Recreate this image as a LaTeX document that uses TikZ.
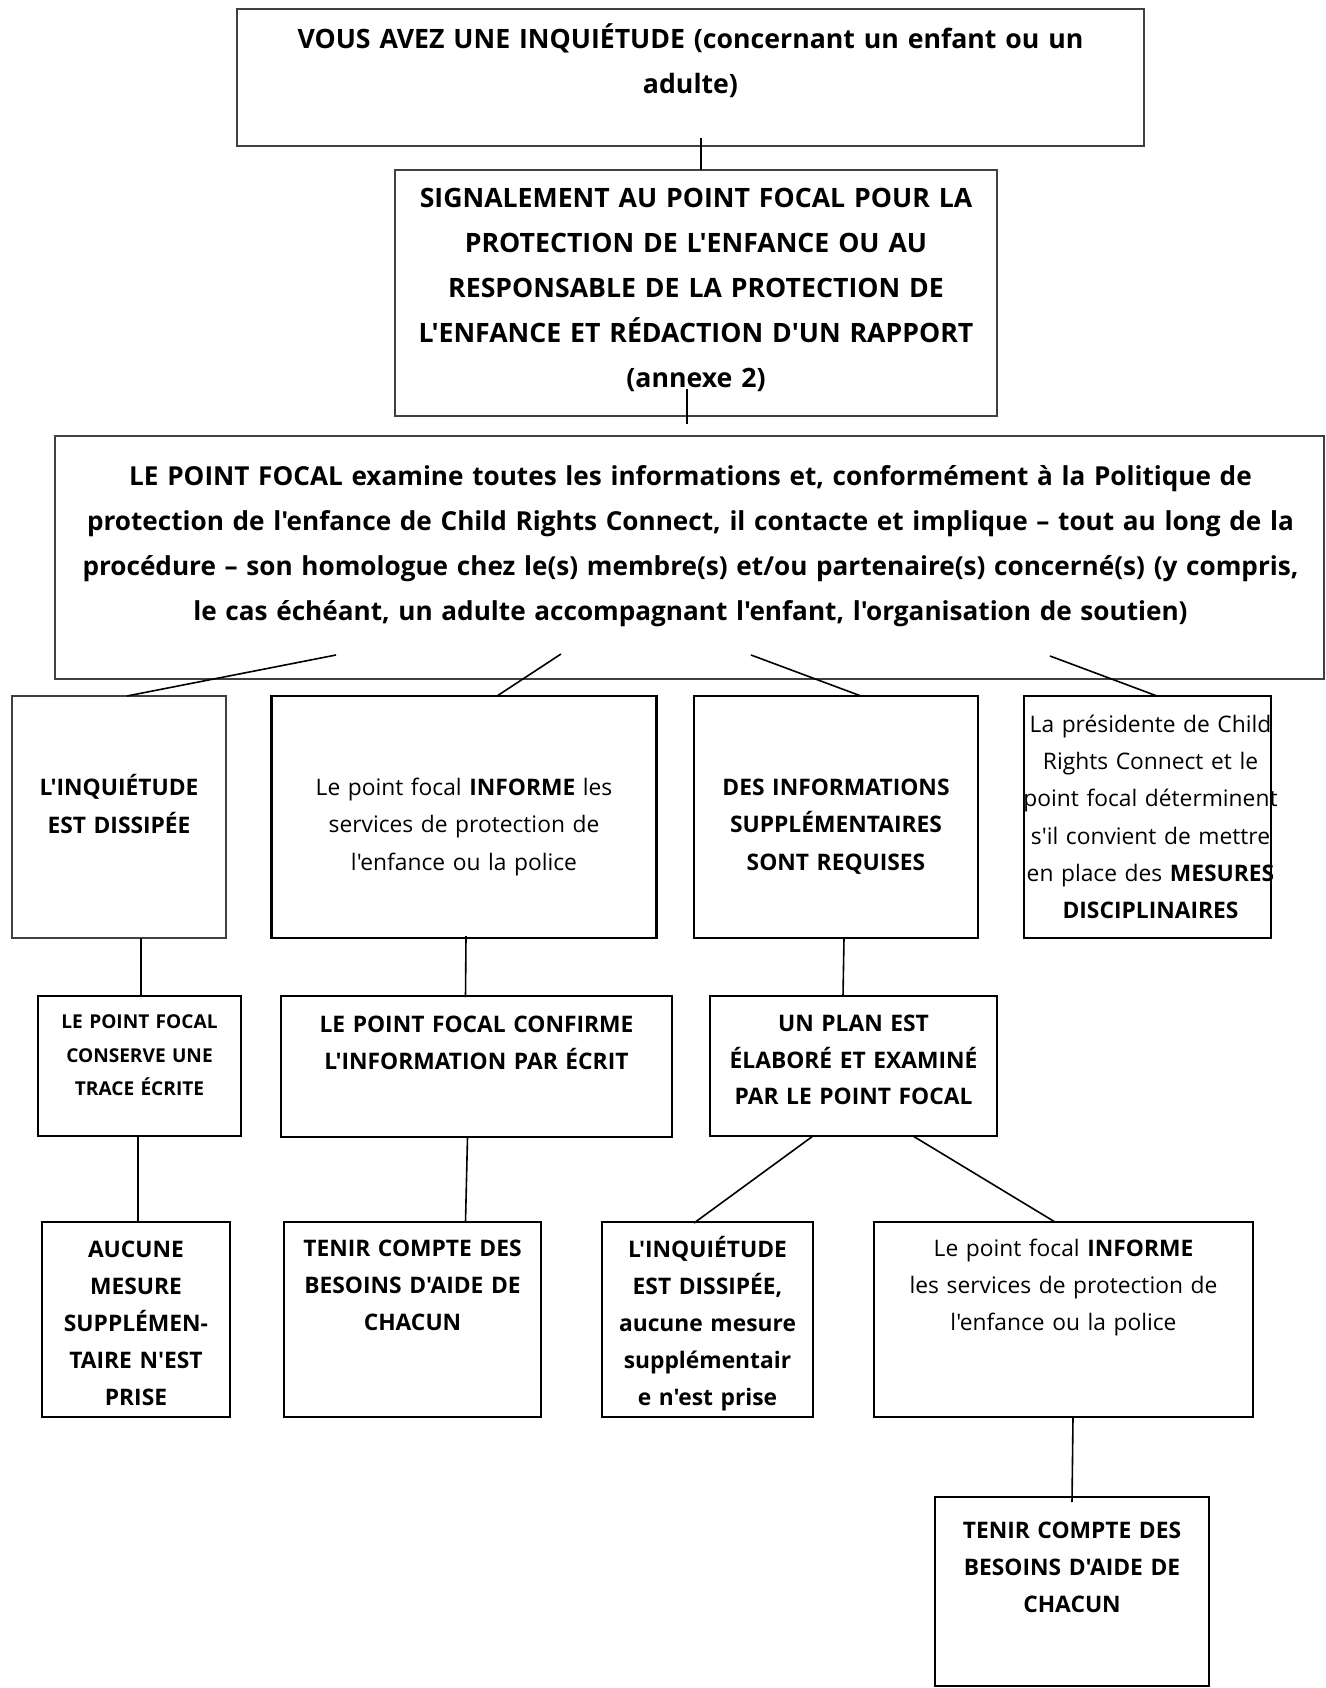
\documentclass[tikz,border=0pt]{standalone}
\usepackage{fontspec}
\setmainfont{Open Sans}[Ligatures=TeXOff]
\usetikzlibrary{calc}
\newlength\calw
\begin{document}
% font size calibration against measured text widths
\settowidth\calw{\fontsize{10}{12}\selectfont\bfseries LE POINT FOCAL examine toutes les informations et, conformément à la Politique de}%
\pgfmathsetmacro\fbig{1122/\calw*10}%
\global\let\fbig\fbig
\pgfmathsetmacro\fbigc{\fbig*0.98}%
\global\let\fbigc\fbigc
\settowidth\calw{\fontsize{10}{12}\selectfont\bfseries TENIR COMPTE DES}%
\pgfmathsetmacro\fsmall{215/\calw*10}%
\global\let\fsmall\fsmall
\settowidth\calw{\fontsize{10}{12}\selectfont\bfseries LE POINT FOCAL}%
\pgfmathsetmacro\ftiny{153.3/\calw*10}%
\global\let\ftiny\ftiny
\begin{tikzpicture}[x=1pt,y=-1pt,
  thinbox/.style={draw=black!75, line width=1.3pt, inner sep=0pt, outer sep=0pt},
  thickbox/.style={draw=black, line width=2.7pt, inner sep=0pt, outer sep=0pt},
  conn/.style={draw=black, line width=1.6pt},
  txtbase/.style={align=center, inner sep=0pt, execute at begin node=\strut, execute at end node=\strut},
  bigtxt/.style={txtbase, text width=1300pt, font=\fontsize{\fbig}{45}\selectfont\bfseries},
  bigtxtc/.style={txtbase, text width=1300pt, font=\fontsize{\fbigc}{45}\selectfont\bfseries},
  smalltxt/.style={txtbase, text width=500pt, font=\fontsize{\fsmall}{37.3}\selectfont},
  smallbold/.style={txtbase, text width=500pt, font=\fontsize{\fsmall}{#1}\selectfont\bfseries},
  tinytxt/.style={txtbase, text width=400pt, font=\fontsize{\ftiny}{33.5}\selectfont\bfseries}
]
\useasboundingbox (0,0) rectangle (1325,1688);
% boxes
\node[thinbox, minimum width=907pt, minimum height=137pt] (b1) at (690.5,77.5) {};
\node[thinbox, minimum width=602pt, minimum height=246pt] (b2) at (696,293) {};
\node[thinbox, minimum width=1269pt, minimum height=243pt] (b3) at (689.5,557.5) {};
\node[thinbox, minimum width=214pt, minimum height=242pt] (bA) at (119,817) {};
\node[thickbox, minimum width=385pt, minimum height=242pt] (bB) at (464,817) {};
\node[thickbox, minimum width=284pt, minimum height=242pt] (bC) at (836,817) {};
\node[thickbox, minimum width=247pt, minimum height=242pt] (bD) at (1147.5,817) {};
\node[thickbox, minimum width=203pt, minimum height=140pt] (bE) at (139.5,1066) {};
\node[thickbox, minimum width=391pt, minimum height=141pt] (bF) at (476.5,1066.5) {};
\node[thickbox, minimum width=287pt, minimum height=140pt] (bG) at (853.5,1066) {};
\node[thickbox, minimum width=188pt, minimum height=195pt] (bH) at (136,1319.5) {};
\node[thickbox, minimum width=257pt, minimum height=195pt] (bI) at (412.5,1319.5) {};
\node[thickbox, minimum width=211pt, minimum height=195pt] (bJ) at (707.5,1319.5) {};
\node[thickbox, minimum width=379pt, minimum height=195pt] (bK) at (1063.5,1319.5) {};
\node[thickbox, minimum width=274pt, minimum height=189pt] (bL) at (1072,1591.5) {};
% texts
\node[bigtxt] (t1) at (690.5,62) {VOUS AVEZ UNE INQUIÉTUDE (concernant un enfant ou un\\adulte)};
\node[bigtxt] (t2) at (696,288.5) {SIGNALEMENT AU POINT FOCAL POUR LA\\PROTECTION DE L'ENFANCE OU AU\\RESPONSABLE DE LA PROTECTION DE\\L'ENFANCE ET RÉDACTION D'UN RAPPORT\\(annexe 2)};
\node[bigtxtc] (t3) at (690.5,544) {LE POINT FOCAL examine toutes les informations et, conformément à la Politique de\\protection de l'enfance de Child Rights Connect, il contacte et implique – tout au long de la\\procédure – son homologue chez le(s) membre(s) et/ou partenaire(s) concerné(s) (y compris,\\le cas échéant, un adulte accompagnant l'enfant, l'organisation de soutien)};
\node[smallbold=37.3] (tA) at (119,807) {L'INQUIÉTUDE\\EST DISSIPÉE};
\node[smalltxt] (tB) at (464,825.5) {Le point focal \textbf{INFORME} les\\services de protection de\\l'enfance ou la police};
\node[smallbold=37.3] (tC) at (836,825.5) {DES INFORMATIONS\\SUPPLÉMENTAIRES\\SONT REQUISES};
\node[smalltxt] (tD) at (1150.5,818) {La présidente de Child\\Rights Connect et le\\point focal déterminent\\s'il convient de mettre\\en place des \textbf{MESURES}\\\textbf{DISCIPLINAIRES}};
\node[tinytxt] (tE) at (139.5,1055.5) {LE POINT FOCAL\\CONSERVE UNE\\TRACE ÉCRITE};
\node[smallbold=36.5] (tF) at (476.5,1043.5) {LE POINT FOCAL CONFIRME\\L'INFORMATION PAR ÉCRIT};
\node[smallbold=36.5] (tG) at (853.5,1061) {UN PLAN EST\\ÉLABORÉ ET EXAMINÉ\\PAR LE POINT FOCAL};
\node[smallbold=37.1] (tH) at (136,1324) {AUCUNE\\MESURE\\SUPPLÉMEN-\\TAIRE N'EST\\PRISE};
\node[smallbold=37.1] (tI) at (412.5,1286) {TENIR COMPTE DES\\BESOINS D'AIDE DE\\CHACUN};
\node[smallbold=37.1] (tJ) at (707.5,1324) {L'INQUIÉTUDE\\EST DISSIPÉE,\\aucune mesure\\supplémentair\\e n'est prise};
\node[smalltxt] (tK) at (1063.5,1286) {Le point focal \textbf{INFORME}\\les services de protection de\\l'enfance ou la police};
\node[smallbold=37.3] (tL) at (1072,1568) {TENIR COMPTE DES\\BESOINS D'AIDE DE\\CHACUN};
% connector end points
\coordinate (c1a) at (701,138);  \coordinate (c1b) at (701,170);
\coordinate (c2a) at (687,389);  \coordinate (c2b) at (687,424);
\coordinate (c3a) at (336,655);  \coordinate (c3b) at (127,696);
\coordinate (c4a) at (561,654);  \coordinate (c4b) at (497,696);
\coordinate (c5a) at (751,655);  \coordinate (c5b) at (861,696);
\coordinate (c6a) at (1050,656); \coordinate (c6b) at (1157,696);
\coordinate (c7a) at (141,938);  \coordinate (c7b) at (141,996);
\coordinate (c8a) at (466,936);  \coordinate (c8b) at (465.5,997);
\coordinate (c9a) at (844,938);  \coordinate (c9b) at (843,996);
\coordinate (c10a) at (138,1136); \coordinate (c10b) at (138,1222);
\coordinate (c11a) at (467.5,1137); \coordinate (c11b) at (465.5,1222);
\coordinate (c12a) at (813,1136); \coordinate (c12b) at (694,1223);
\coordinate (c13a) at (913,1136); \coordinate (c13b) at (1055,1222);
\coordinate (c14a) at (1073,1417); \coordinate (c14b) at (1072,1502);
% connectors
\foreach \i in {1,...,14} { \draw[conn] (c\i a) -- (c\i b); }
\end{tikzpicture}
\end{document}
